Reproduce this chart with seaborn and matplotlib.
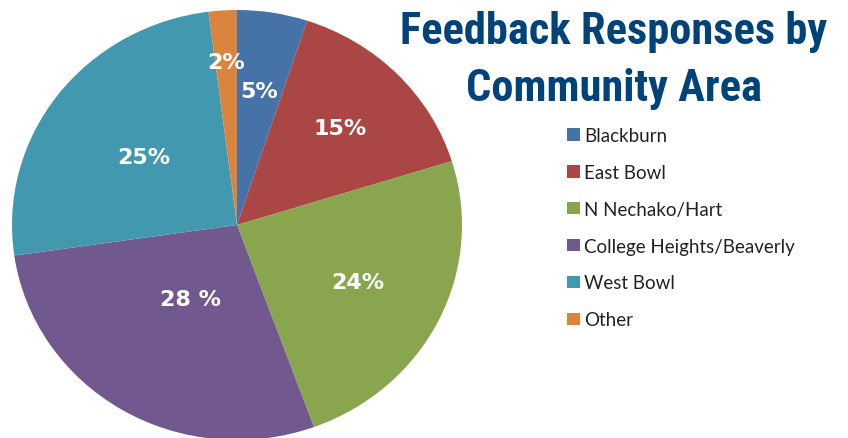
"""Pie chart of feedback responses split by community area."""

import numpy as np
import seaborn as sns
import matplotlib.pyplot as plt
from matplotlib import font_manager

# Data
AREAS = ["Blackburn", "East Bowl", "N Nechako/Hart",
         "College Heights/Beaverly", "West Bowl", "Other"]
SHARES = [5, 15, 24, 28, 25, 2]
PCT_LABELS = ["5%", "15%", "24%", "28 %", "25%", "2%"]

COLORS = ["#4572A7", "#AA4744", "#89A54E", "#71588F", "#4198AF", "#DB843D"]
LABEL_RADII = [0.63, 0.64, 0.60, 0.40, 0.52, 0.76]  # label distance from centre per slice
TITLE_LINES = ["Feedback Responses by", "Community Area"]


def pick_font(candidates, fallback="DejaVu Sans"):
    names = {f.name for f in font_manager.fontManager.ttflist}
    for c in candidates:
        if c in names:
            return c
    return fallback


def main():
    sns.set_theme(style="white")
    plt.rcParams["font.family"] = ["DejaVu Sans"]

    title_font = pick_font(["Liberation Sans Narrow", "Roboto Condensed",
                            "Open Sans Condensed", "Roboto", "Inter"])
    legend_font = pick_font(["Lato", "Open Sans"])

    W, H = 848, 439
    fig = plt.figure(figsize=(W / 100, H / 100), dpi=100)

    # pie is slightly squashed in the source image, so axes are not square
    cx, cy, rx, ry = 237, 226, 225, 215
    ax = fig.add_axes([(cx - rx) / W, (H - cy - ry) / H, 2 * rx / W, 2 * ry / H])

    wedges, _ = ax.pie(
        SHARES,
        colors=COLORS,
        startangle=90,
        counterclock=False,
        radius=1,
        wedgeprops=dict(linewidth=0),
    )
    ax.set_aspect("auto")
    ax.set_xlim(-1, 1)
    ax.set_ylim(-1, 1)
    ax.axis("off")

    for w, lab, r in zip(wedges, PCT_LABELS, LABEL_RADII):
        ang = np.deg2rad((w.theta1 + w.theta2) / 2)
        ax.text(r * np.cos(ang), r * np.sin(ang), lab, ha="center", va="center",
                color="white", fontsize=16, fontweight="bold")

    # title: two lines, shrink until the long line fits ~428 px
    renderer = fig.canvas.get_renderer()
    baselines = [44, 101]
    size = 36
    while size > 10:
        t = fig.text(614 / W, 1 - baselines[0] / H, TITLE_LINES[0], ha="center",
                     va="baseline", fontsize=size, fontweight="bold",
                     fontstretch="condensed", family=title_font)
        width = t.get_window_extent(renderer).width
        t.remove()
        if width <= 428:
            break
        size -= 0.5
    for line, b in zip(TITLE_LINES, baselines):
        fig.text(614 / W, 1 - b / H, line, ha="center", va="baseline",
                 fontsize=size, fontweight="bold", fontstretch="condensed",
                 color="#00427A", family=title_font)

    leg = fig.legend(
        wedges, AREAS,
        loc="upper left",
        bbox_to_anchor=(567 / W, 1 - 128 / H),
        bbox_transform=fig.transFigure,
        frameon=False,
        borderaxespad=0, borderpad=0,
        prop=dict(family=legend_font, size=13.5),
        labelspacing=1.06,
        handlelength=0.68, handleheight=0.65, handletextpad=0.22,
    )
    for t in leg.get_texts():
        t.set_color("#222222")

    fig.savefig("out.png", dpi=100)


if __name__ == "__main__":
    main()
